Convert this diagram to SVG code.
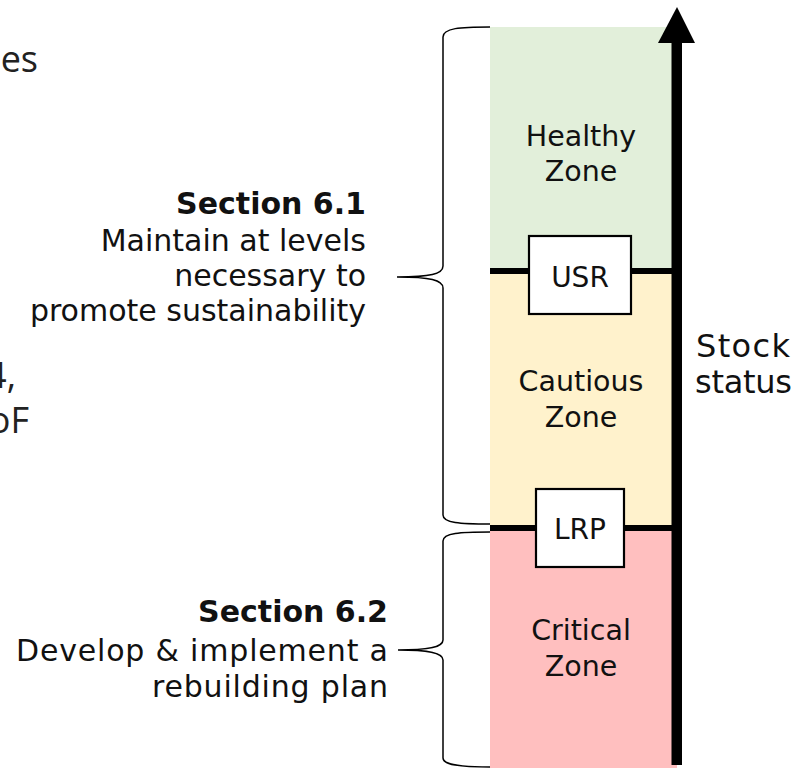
<svg xmlns="http://www.w3.org/2000/svg" width="805" height="768" viewBox="0 0 805 768">
<style>
.t{font-family:"DejaVu Sans","Liberation Sans",sans-serif;fill:#111;font-size:30px}
.z{font-size:28.5px}
.k{font-size:28px}
.s{font-size:32px}
.b{font-weight:bold}
.c{text-anchor:middle}
.r{text-anchor:end}
.p{font-family:"Open Sans","Liberation Sans",sans-serif;fill:#222;font-size:36px;text-anchor:end}
.brace{fill:none;stroke:#000;stroke-width:1.5}
.box{fill:#fff;stroke:#000;stroke-width:2.2}
.lvl{stroke:#000;stroke-width:6}
</style>
<rect width="805" height="768" fill="#fff"/>
<g id="partial-text">
<text class="p" x="38" y="72">es</text>
<text class="p" x="16" y="388" font-size="34">4,</text>
<text class="p" x="29" y="433" font-size="34">oF</text>
</g>
<g id="healthy-zone">
<rect x="490" y="27" width="187" height="244" fill="#E2EFDA"/>
<text class="t z c" x="581" y="146">Healthy</text>
<text class="t z c" x="581" y="181">Zone</text>
</g>
<g id="cautious-zone">
<rect x="490" y="271" width="187" height="257" fill="#FFF2CC"/>
<text class="t z c" x="581" y="391">Cautious</text>
<text class="t z c" x="581" y="427">Zone</text>
</g>
<g id="critical-zone">
<rect x="490" y="528" width="187" height="240" fill="#FFBFBF"/>
<text class="t z c" x="581" y="640">Critical</text>
<text class="t z c" x="581" y="676">Zone</text>
</g>
<g id="connectors">
<line class="lvl" x1="490" y1="271" x2="677" y2="271"/>
<line class="lvl" x1="490" y1="528" x2="677" y2="528"/>
<path class="brace" d="M490,27 C460,27 443,28 443,37 L443,266 C443,274 430,277 397,277 C430,277 443,280 443,288 L443,515 C443,523 460,524 490,524"/>
<path class="brace" d="M490,532 C460,532 443,533 443,541 L443,640 C443,647 430,650 398,650 C430,650 443,653 443,660 L443,758 C443,765 460,767 490,767"/>
<rect x="671.5" y="40" width="10.5" height="725" fill="#000"/>
<polygon points="677,7 658,43 695,43" fill="#000"/>
</g>
<g id="usr">
<rect class="box" x="529" y="236" width="102" height="78"/>
<text class="t k c" x="580" y="287">USR</text>
</g>
<g id="lrp">
<rect class="box" x="536" y="489" width="88" height="78"/>
<text class="t k c" x="580" y="539">LRP</text>
</g>
<g id="stock-status">
<text class="t s" x="696" y="357" textLength="94" lengthAdjust="spacing">Stock</text>
<text class="t s" x="695" y="393" textLength="97" lengthAdjust="spacing">status</text>
</g>
<g id="section-6-1">
<text class="t b r" x="366" y="214">Section 6.1</text>
<text class="t r" x="366" y="251">Maintain at levels</text>
<text class="t r" x="366" y="286">necessary to</text>
<text class="t r" x="366" y="321">promote sustainability</text>
</g>
<g id="section-6-2">
<text class="t b r" x="388" y="622">Section 6.2</text>
<text class="t r" x="388" y="661" textLength="372" lengthAdjust="spacing">Develop &amp; implement a</text>
<text class="t r" x="388" y="697" textLength="236" lengthAdjust="spacing">rebuilding plan</text>
</g>
</svg>
